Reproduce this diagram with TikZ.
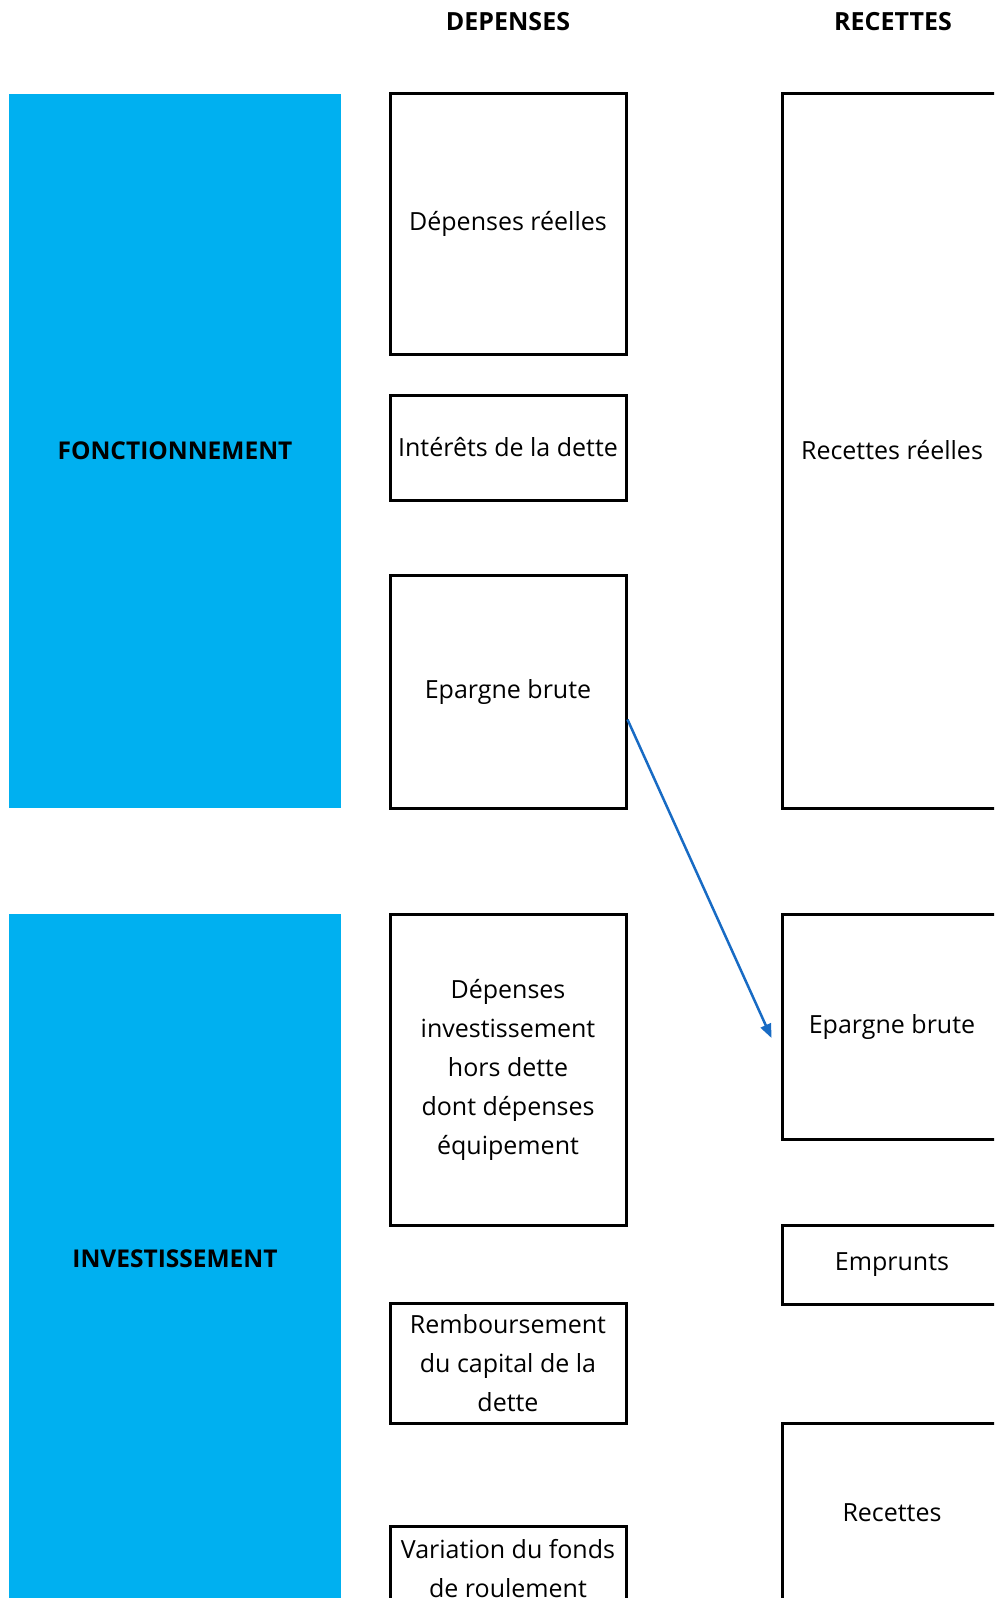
\documentclass[tikz,border=0pt]{standalone}
\usepackage{fontspec}
\setmainfont{Open Sans}
\usetikzlibrary{arrows.meta}
\definecolor{blocblue}{RGB}{0,176,240}
\definecolor{arrowblue}{RGB}{24,107,196}
\newcommand{\ColWidth}{236pt}
\newcommand{\RecWidth}{220pt}
\tikzset{BlueBlock/.style={
    inner sep=0pt,
    minimum width=332pt,
    fill=blocblue,
    align=center,
    font=\fontsize{24.5}{39}\selectfont\bfseries
    }
}
\tikzset{DepBox/.style={
    inner sep=0pt,
    minimum width=\ColWidth,
    draw=black,
    line width=3pt,
    align=center,
    font=\fontsize{25}{39}\selectfont
    }
}
\tikzset{RecBox/.style={
    inner sep=0pt,
    minimum width=\RecWidth,
    draw=black,
    line width=3pt,
    align=center,
    font=\fontsize{25}{39}\selectfont
    }
}
\tikzset{Header/.style={
    inner sep=0pt,
    font=\fontsize{25}{30}\selectfont\bfseries
    }
}
\begin{document}
\begin{tikzpicture}[x=1pt,y=-1pt]
    \useasboundingbox (0,0) rectangle (994,1598);
    \clip (0,0) rectangle (994,1598);

    % headers
    \node (hdep) [Header] at (508,22) {DEPENSES};
    \node (hrec) [Header] at (893,22) {RECETTES};

    % left blocks
    \node (fonct) [BlueBlock, minimum height=714pt] at (175,451) {FONCTIONNEMENT};
    \node (invest) [BlueBlock, minimum height=690pt] at (175,1259) {INVESTISSEMENT};

    % depenses
    \node (DepR) [DepBox, minimum height=261pt] at (508,223.5) {D\'epenses r\'eelles};
    \node (Int) [DepBox, minimum height=105pt] at (508,447.5) {Int\'er\^ets de la dette};
    \node (EpD) [DepBox, minimum height=233pt] at (508,691.5) {Epargne brute};
    \node (DepI) [DepBox, minimum height=311pt] at (508,1069.5)
    {D\'epenses\\ investissement\\ hors dette\\ dont d\'epenses\\ \'equipement};
    \node (Remb) [DepBox, minimum height=120pt] at (508,1363) {Remboursement\\ du capital de la\\ dette};
    \node (VarFR) [DepBox, minimum height=85pt] at (508,1568.5) {Variation du fonds\\ de roulement};

    % recettes
    \node (RecR) [RecBox, minimum height=715pt] at (892,450.5) {Recettes r\'eelles};
    \node (EpR) [RecBox, minimum height=225pt] at (892,1026.5) {Epargne brute};
    \node (Emp) [RecBox, minimum height=79pt] at (892,1264.5) {Emprunts};
    \node (RecI) [RecBox, minimum height=180pt] at (892,1513) {Recettes};

    \draw [arrowblue, line width=2.5pt, -{Triangle[width=11pt,length=14pt]}]
        ([yshift=-28pt]EpD.east) -- ([xshift=-9pt,yshift=-11.5pt]EpR.west);
\end{tikzpicture}
\end{document}
